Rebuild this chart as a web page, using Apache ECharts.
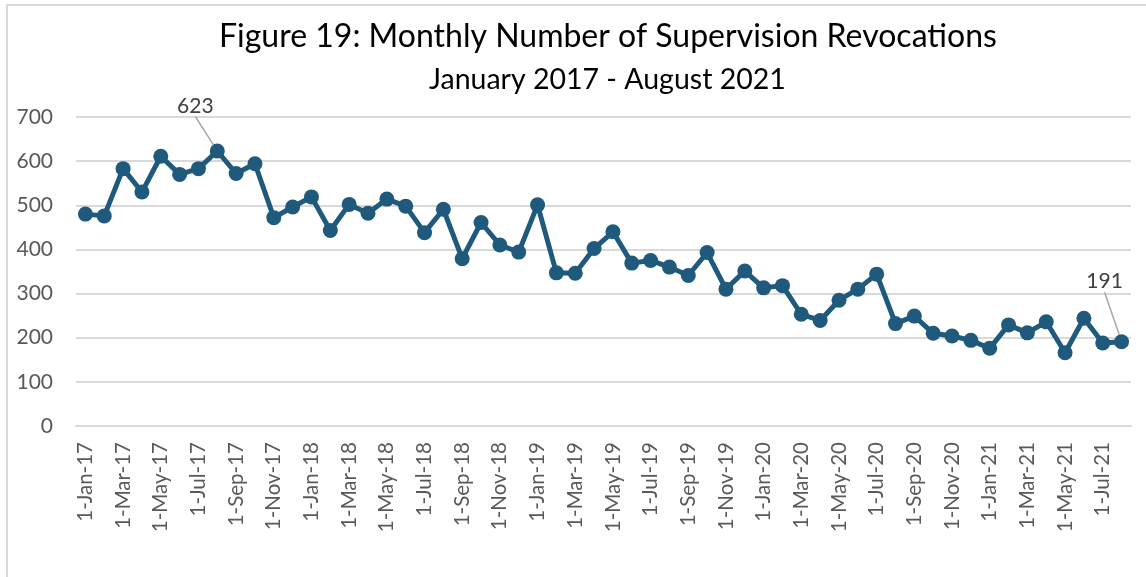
<!DOCTYPE html>
<html>
<head>
<meta charset="utf-8">
<script src="https://cdn.jsdelivr.net/npm/echarts@6/dist/echarts.min.js"></script>
<style>
  html, body { margin: 0; padding: 0; background: #fff; }
  #frame { position: absolute; left: 6px; top: 4px; width: 1150px; height: 590px; border: 2px solid #d9d9d9; box-sizing: border-box; }
  #main { position: absolute; left: 0; top: 0; width: 1146px; height: 577px; }
</style>
</head>
<body>
<div id="frame"></div>
<div id="main"></div>
<script>
var months = ['Jan', 'Feb', 'Mar', 'Apr', 'May', 'Jun', 'Jul', 'Aug', 'Sep', 'Oct', 'Nov', 'Dec'];
var years = ['17', '18', '19', '20', '21'];

var categories = [];
years.forEach(function (y) {
  months.forEach(function (m) {
    if (categories.length < 56) categories.push('1-' + m + '-' + y);
  });
});

var revocations2017 = [480, 476, 583, 530, 611, 570, 583, 623, 572, 594, 472, 496];
var revocations2018 = [519, 443, 502, 482, 514, 498, 438, 491, 379, 461, 410, 394];
var revocations2019 = [501, 347, 346, 402, 440, 369, 375, 360, 341, 393, 310, 351];
var revocations2020 = [313, 318, 253, 239, 285, 310, 344, 232, 249, 210, 204, 194];
var revocations2021 = [176, 229, 211, 236, 166, 244, 188, 191];

var revocations = [].concat(revocations2017, revocations2018, revocations2019,
  revocations2020, revocations2021);

var yTicks = [0, 100, 200, 300, 400, 500, 600, 700];

// points that carry a data label in the original figure
var labelled = [7, revocations.length - 1];

var font = 'Lato';
var myChart = echarts.init(document.getElementById('main'));

var seriesData = revocations.map(function (v, i) {
  if (labelled.indexOf(i) < 0) return v;
  return {
    value: v,
    label: {
      show: true,
      position: 'inside',
      color: '#404040',
      fontFamily: font,
      fontSize: 21
    },
    labelLine: { show: true, lineStyle: { color: '#a6a6a6', width: 1.5 } }
  };
});

var option = {
  animation: false,
  title: [
    {
      text: 'Figure 19: Monthly Number of Supervision Revocations',
      left: 214,
      top: 16,
      textStyle: { fontFamily: font, fontSize: 32, fontWeight: 'normal', color: '#000' }
    },
    {
      text: 'January 2017 - August 2021',
      left: 424,
      top: 60,
      textStyle: { fontFamily: font, fontSize: 28.5, fontWeight: 'normal', color: '#000' }
    }
  ],
  grid: { left: 76, right: 15, top: 117, bottom: 151 },
  xAxis: {
    type: 'category',
    data: categories,
    boundaryGap: true,
    axisLine: { lineStyle: { color: '#d9d9d9', width: 2 } },
    axisTick: { show: false },
    axisLabel: {
      interval: 1,
      rotate: 90,
      color: '#595959',
      fontFamily: font,
      fontSize: 20.5,
      margin: 16
    }
  },
  yAxis: {
    type: 'value',
    min: yTicks[0],
    max: yTicks[yTicks.length - 1],
    interval: 100,
    axisLine: { show: false },
    axisTick: { show: false },
    splitLine: { lineStyle: { color: '#d9d9d9', width: 2 } },
    axisLabel: { color: '#595959', fontFamily: font, fontSize: 21, margin: 23 }
  },
  series: [
    {
      name: 'Revocations',
      type: 'line',
      data: seriesData,
      symbol: 'circle',
      symbolSize: 15,
      showAllSymbol: true,
      itemStyle: { color: '#1f5a7c' },
      lineStyle: { color: '#1f5a7c', width: 5 },
      labelLayout: function (params) {
        if (params.dataIndex === labelled[0]) return { dx: -22, dy: -45 };
        return { dx: -17, dy: -60 };
      }
    }
  ]
};

myChart.setOption(option);
</script>
</body>
</html>
